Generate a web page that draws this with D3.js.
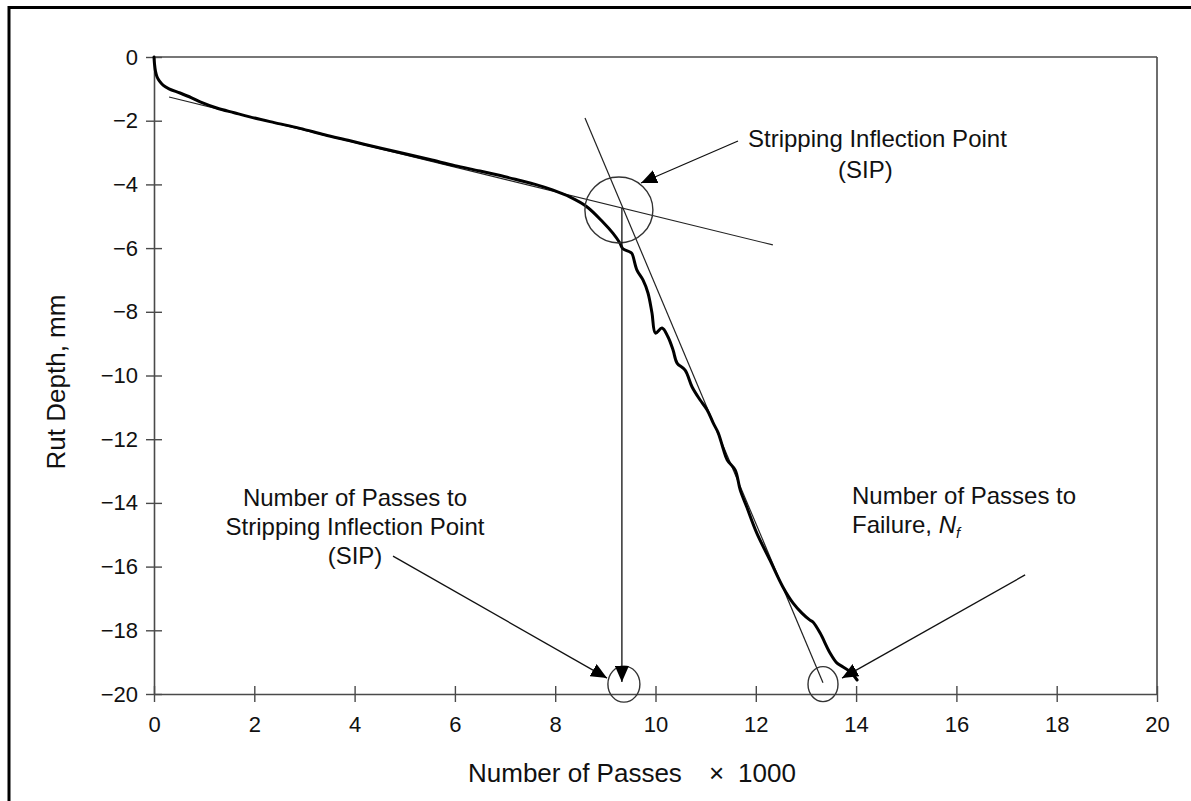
<!DOCTYPE html>
<html>
<head>
<meta charset="utf-8">
<script src="https://cdn.jsdelivr.net/npm/d3@7"></script>
<style>
  html, body { margin: 0; padding: 0; background: #fff; }
  svg { display: block; }
  text { font-family: "Liberation Sans", Arial, sans-serif; fill: #111; }
</style>
</head>
<body>
<svg id="chart" width="1191" height="801"></svg>
<script>
// ---- Data ----
const passes = [0, 0.01, 0.03, 0.06, 0.11, 0.18, 0.3, 0.52, 0.75, 0.92, 1.25, 1.6, 1.91, 2.4, 2.91, 3.4, 3.91, 4.4, 4.9, 5.5, 6.0, 6.5, 7.0, 7.3, 7.6, 7.96, 8.3, 8.63, 8.95, 9.15, 9.29, 9.35, 9.49, 9.53, 9.63, 9.75, 9.85, 9.93, 10.0, 10.13, 10.25, 10.35, 10.43, 10.59, 10.73, 10.89, 11.03, 11.15, 11.25, 11.35, 11.43, 11.59, 11.69, 11.82, 12.02, 12.28, 12.54, 12.74, 12.92, 13.08, 13.14, 13.28, 13.48, 13.62, 13.74, 13.88, 14.02];
const rutDepth = [0, -0.22, -0.45, -0.62, -0.76, -0.88, -1.0, -1.13, -1.28, -1.41, -1.6, -1.75, -1.88, -2.06, -2.24, -2.44, -2.63, -2.82, -3.0, -3.22, -3.41, -3.58, -3.76, -3.88, -4.0, -4.18, -4.4, -4.7, -5.18, -5.53, -5.84, -6.02, -6.12, -6.17, -6.69, -7.0, -7.41, -8.04, -8.67, -8.51, -8.79, -9.2, -9.61, -9.83, -10.36, -10.77, -11.08, -11.49, -11.8, -12.3, -12.65, -12.97, -13.6, -14.13, -14.95, -15.79, -16.64, -17.14, -17.46, -17.68, -17.74, -18.08, -18.71, -19.03, -19.15, -19.3, -19.56];

const xTicks = [0, 2, 4, 6, 8, 10, 12, 14, 16, 18, 20];
const yTicks = [0, -2, -4, -6, -8, -10, -12, -14, -16, -18, -20];

// tangent lines
const tangentInitialX = [0.3, 12.34];
const tangentInitialY = [-1.256, -5.9];
const tangentSteepX = [8.594, 13.34];
const tangentSteepY = [-1.915, -19.65];

// key points
const sipPoint = [9.33, -4.74];
const sipMarkPoint = [9.37, -19.69];
const nfMarkPoint = [13.34, -19.69];

// annotation arrows [x1, y1, x2, y2] in data units
const arrowSIP = [11.645, -2.637, 9.711, -3.956];
const arrowSIPPasses = [4.766, -15.67, 9.033, -19.5];
const arrowNf = [17.37, -16.26, 13.72, -19.5];
const arrowDrop = [9.33, -4.74, 9.33, -19.62];

// ---- Layout ----
const svg = d3.select("#chart");
const X0 = 154, X1 = 1157, Y0 = 57, Y1 = 694;
const x = d3.scaleLinear().domain([0, 20]).range([X0, X1]);
const y = d3.scaleLinear().domain([0, -20]).range([Y0, Y1]);

// outer border (top and left only)
svg.append("line").attr("x1", 9).attr("x2", 1191).attr("y1", 7.5).attr("y2", 7.5)
  .attr("stroke", "#000").attr("stroke-width", 3);
svg.append("line").attr("x1", 9).attr("x2", 9).attr("y1", 6).attr("y2", 801)
  .attr("stroke", "#000").attr("stroke-width", 3);

const frameColor = "#4a4a4a";
// frame top and right
svg.append("line").attr("x1", X0).attr("x2", X1).attr("y1", Y0).attr("y2", Y0)
  .attr("stroke", frameColor).attr("stroke-width", 1.6);
svg.append("line").attr("x1", X1).attr("x2", X1).attr("y1", Y0).attr("y2", Y1)
  .attr("stroke", frameColor).attr("stroke-width", 1.6);

// x axis
const xAxis = d3.axisBottom(x).tickValues(xTicks).tickSizeInner(8).tickSizeOuter(0)
  .tickPadding(14).tickFormat(d3.format("d"));
const gx = svg.append("g").attr("transform", `translate(0,${Y1})`).call(xAxis);
gx.select(".domain").attr("stroke", frameColor).attr("stroke-width", 1.6);
gx.selectAll(".tick line").attr("y1", -8).attr("stroke", frameColor).attr("stroke-width", 1.4);
gx.selectAll(".tick text").attr("font-size", 22).attr("font-family", "Liberation Sans, Arial, sans-serif").attr("fill", "#111");

// y axis
const yAxis = d3.axisLeft(y).tickValues(yTicks).tickSizeInner(8).tickSizeOuter(0)
  .tickPadding(8).tickFormat(d => d === 0 ? "0" : "\u2212" + Math.abs(d));
const gy = svg.append("g").attr("transform", `translate(${X0},0)`).call(yAxis);
gy.select(".domain").attr("stroke", frameColor).attr("stroke-width", 1.6);
gy.selectAll(".tick line").attr("x1", 8).attr("stroke", frameColor).attr("stroke-width", 1.4);
gy.selectAll(".tick text").attr("font-size", 22).attr("font-family", "Liberation Sans, Arial, sans-serif").attr("fill", "#111");

// axis titles
const xt = svg.append("text").attr("y", 782).attr("font-size", 26);
xt.append("tspan").attr("x", 468).text("Number of Passes");
xt.append("tspan").attr("x", 709).text("\u00d7");
xt.append("tspan").attr("x", 738).text("1000");

svg.append("text").attr("transform", "translate(65,382) rotate(-90)")
  .attr("text-anchor", "middle").attr("font-size", 26).text("Rut Depth, mm");

// arrow marker
const defs = svg.append("defs");
defs.append("marker").attr("id", "arrow").attr("markerUnits", "userSpaceOnUse")
  .attr("markerWidth", 18).attr("markerHeight", 14).attr("refX", 16).attr("refY", 7)
  .attr("orient", "auto")
  .append("path").attr("d", "M0,0 L16,7 L0,14 Z").attr("fill", "#000");

// tangent lines
const lineGen = d3.line().x(d => x(d[0])).y(d => y(d[1]));
svg.append("path").datum(d3.zip(tangentInitialX, tangentInitialY)).attr("d", lineGen)
  .attr("fill", "none").attr("stroke", "#222").attr("stroke-width", 1.2);
svg.append("path").datum(d3.zip(tangentSteepX, tangentSteepY)).attr("d", lineGen)
  .attr("fill", "none").attr("stroke", "#222").attr("stroke-width", 1.2);

// main curve
svg.append("path").datum(d3.zip(passes, rutDepth))
  .attr("d", d3.line().x(d => x(d[0])).y(d => y(d[1])).curve(d3.curveCatmullRom.alpha(0.5)))
  .attr("fill", "none").attr("stroke", "#000").attr("stroke-width", 3)
  .attr("stroke-linejoin", "round").attr("stroke-linecap", "round");

// circles
svg.append("ellipse").attr("cx", x(sipPoint[0]) - 3).attr("cy", y(sipPoint[1]) + 2)
  .attr("rx", 34).attr("ry", 33)
  .attr("fill", "none").attr("stroke", "#333").attr("stroke-width", 1.4);
svg.append("ellipse").attr("cx", x(sipMarkPoint[0])).attr("cy", y(sipMarkPoint[1]))
  .attr("rx", 16).attr("ry", 18)
  .attr("fill", "none").attr("stroke", "#333").attr("stroke-width", 1.4);
svg.append("ellipse").attr("cx", x(nfMarkPoint[0])).attr("cy", y(nfMarkPoint[1]))
  .attr("rx", 15).attr("ry", 17.5)
  .attr("fill", "none").attr("stroke", "#333").attr("stroke-width", 1.4);

// arrows
[arrowSIP, arrowSIPPasses, arrowNf, arrowDrop].forEach(a => {
  svg.append("line").attr("x1", x(a[0])).attr("y1", y(a[1]))
    .attr("x2", x(a[2])).attr("y2", y(a[3]))
    .attr("stroke", "#111").attr("stroke-width", 1.3)
    .attr("marker-end", "url(#arrow)");
});

// annotations
svg.append("text").attr("x", 748).attr("y", 147).attr("font-size", 24).text("Stripping Inflection Point");
svg.append("text").attr("x", 838).attr("y", 178).attr("font-size", 24).text("(SIP)");

const leftNote = svg.append("text").attr("font-size", 24).attr("text-anchor", "middle");
["Number of Passes to", "Stripping Inflection Point", "(SIP)"].forEach((s, i) => {
  leftNote.append("tspan").attr("x", 355).attr("y", 506 + i * 29).text(s);
});

svg.append("text").attr("x", 852).attr("y", 504).attr("font-size", 24).text("Number of Passes to");
const nf = svg.append("text").attr("x", 852).attr("y", 533).attr("font-size", 24);
nf.append("tspan").text("Failure, ");
nf.append("tspan").attr("font-style", "italic").text("N");
nf.append("tspan").attr("font-style", "italic").attr("font-size", 15).attr("dy", 5).text("f");
</script>
</body>
</html>
